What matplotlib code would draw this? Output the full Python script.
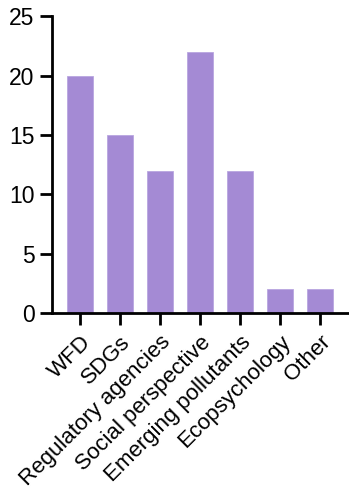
import matplotlib
matplotlib.use("Agg")
from matplotlib import pyplot as plt

# ============================== Data =============================== #
categories = ["WFD", "SDGs", "Regulatory agencies", "Social perspective",
              "Emerging pollutants", "Ecopsychology", "Other"]
counts = [20, 15, 12, 22, 12, 2, 2]
y_ticks = [0, 5, 10, 15, 20, 25]
# =================================================================== #

plt.rcParams['font.family'] = ['Liberation Sans', 'DejaVu Sans']

fig = plt.figure(figsize=(3.49, 4.91), dpi=100)
ax = fig.add_axes([0.149, 0.3625, 0.848, 0.6045])

x = list(range(len(categories)))
ax.bar(x, counts, width=0.67, color="#a48ad4", edgecolor="#b9a6e0", linewidth=0.6)

ax.set_xlim(-0.7, len(categories) - 0.3)
ax.set_ylim(0, 25)
ax.set_yticks(y_ticks)
ax.set_xticks(x)
ax.set_xticklabels(categories, rotation=45, ha="right", rotation_mode="anchor")

for side in ["top", "right"]:
    ax.spines[side].set_visible(False)
for side in ["left", "bottom"]:
    ax.spines[side].set_linewidth(2.0)
    ax.spines[side].set_capstyle("projecting")

ax.tick_params(axis="both", width=2.0, length=8.5, colors="black")
ax.tick_params(axis="y", pad=4, labelsize=16.5)
ax.tick_params(axis="x", pad=5, labelsize=16)

fig.savefig("out.png", dpi=100)
